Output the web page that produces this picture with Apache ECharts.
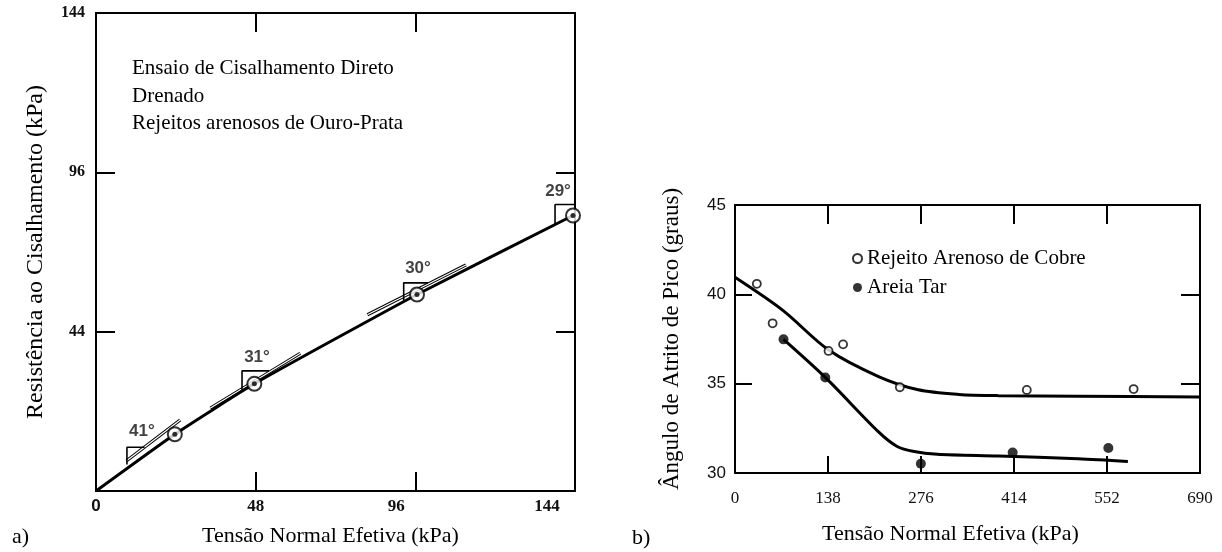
<!DOCTYPE html>
<html><head><meta charset="utf-8">
<script src="https://cdn.jsdelivr.net/npm/echarts@6/dist/echarts.min.js"></script>
<style>html,body{margin:0;padding:0;background:#fff}#c{width:1222px;height:552px}</style>
</head><body><div id="c"></div>
<script>
// ---------- Chart a) ----------
const aXTicks = [0, 48, 96, 144];
const aXLabels = ['0', '48', '96', '144'];
const aYTicks = [0, 48, 96, 144];
const aYLabels = ['', '44', '96', '144'];
const aPoints = [[23.7, 17.1], [47.6, 32.3], [96.5, 59.2], [143.4, 83.0]];
const aLine = [[0, 0], [23.7, 17.1], [47.6, 32.3], [96.5, 59.2], [143.4, 83.0], [144, 83.3]];
const aAngles = ['41°', '31°', '30°', '29°'];
const aAngleLabelPos = [[13.8, 18.0], [48.4, 40.3], [96.8, 67.0], [138.9, 90.2]];
const aAngleBoxes = [
  [[9.3, 8.0], [9.3, 13.2], [14.6, 13.2]],
  [[43.9, 30.3], [43.9, 36.2], [52.0, 36.2]],
  [[92.5, 57.3], [92.5, 62.7], [99.8, 62.7]],
  [[138.0, 80.4], [138.0, 86.3], [144, 86.3]]
];
const aTangents = [
  [[9.2, 9.1], [25.3, 21.4]],
  [[34.4, 25.0], [61.4, 41.5]],
  [[81.6, 53.1], [111.2, 68.1]]
];
const aNote = ['Ensaio de Cisalhamento Direto', 'Drenado', 'Rejeitos arenosos de Ouro-Prata'];

// ---------- Chart b) ----------
const bXTicks = [0, 138, 276, 414, 552, 690];
const bYTicks = [30, 35, 40, 45];
const seriesNames = ['Rejeito Arenoso de Cobre', 'Areia Tar'];
const cobrePts = [[32.4, 40.59], [55.8, 38.38], [138.8, 36.83], [160.4, 37.2], [244.6, 34.8], [433, 34.65], [591.5, 34.7]];
const cobreCurve = [[0, 40.95], [71, 39.1], [139, 36.88], [213, 35.4], [272, 34.66], [332, 34.4], [391, 34.33], [509, 34.3], [690, 34.26]];
const tarPts = [[72, 37.48], [134, 35.35], [275.8, 30.52], [412, 31.15], [554, 31.4]];
const tarCurve = [[72, 37.48], [134, 35.35], [213, 32.3], [240, 31.5], [266, 31.2], [300, 31.05], [391, 30.95], [509, 30.8], [583, 30.65]];

const SERIF = '"Liberation Serif","DejaVu Serif",serif';
const SANS = '"Liberation Sans","DejaVu Sans",sans-serif';
const BLACK = '#000';

function frameAxis(extra) {
  return Object.assign({
    type: 'value',
    splitLine: { show: false },
    axisLine: { show: true, onZero: false, lineStyle: { color: BLACK, width: 2 } },
    axisTick: { show: true, inside: true, length: 19, lineStyle: { color: BLACK, width: 2 } },
    axisLabel: { show: false }
  }, extra);
}

const lblBase = { fontFamily: SERIF, fontWeight: 'bold', fontSize: 17, color: '#111' };

const xAxes = [
  frameAxis({
    gridIndex: 0, min: 0, max: 144, interval: 48, position: 'bottom',
    axisLabel: {
      show: true, margin: 7,
      formatter: v => { const i = aXTicks.indexOf(v); return i < 0 ? '' : '{t' + i + '|' + aXLabels[i] + '}'; },
      rich: {
        t0: Object.assign({}, lblBase, { fontFamily: SANS }),
        t1: Object.assign({}, lblBase),
        t2: Object.assign({}, lblBase, { padding: [0, 38, 0, 0] }),
        t3: Object.assign({}, lblBase, { padding: [0, 56, 0, 0] })
      }
    },
    name: 'Tensão Normal Efetiva (kPa)', nameLocation: 'middle', nameGap: 34,
    nameTextStyle: { fontFamily: SERIF, fontSize: 22, color: BLACK, padding: [0, 10, 0, 0] }
  }),
  frameAxis({ gridIndex: 0, min: 0, max: 144, interval: 48, position: 'top' }),
  frameAxis({
    gridIndex: 1, min: 0, max: 690, interval: 138, position: 'bottom',
    axisTick: { show: true, inside: true, length: 17, lineStyle: { color: BLACK, width: 2 } },
    axisLabel: { show: true, margin: 17, fontFamily: SERIF, fontSize: 17, color: '#111',
      formatter: v => bXTicks.indexOf(v) < 0 ? '' : String(v) },
    name: 'Tensão Normal Efetiva (kPa)', nameLocation: 'middle', nameGap: 50,
    nameTextStyle: { fontFamily: SERIF, fontSize: 22, color: BLACK, padding: [0, 34, 0, 0] }
  }),
  frameAxis({ gridIndex: 1, min: 0, max: 690, interval: 138, position: 'top' })
];

const yAxes = [
  frameAxis({
    gridIndex: 0, min: 0, max: 144, interval: 48, position: 'left',
    axisLabel: { show: true, margin: 11, fontFamily: SERIF, fontWeight: 'bold', fontSize: 16, color: '#111',
      formatter: v => { const i = aYTicks.indexOf(v); return i < 0 ? '' : aYLabels[i]; } },
    name: 'Resistência ao Cisalhamento (kPa)', nameLocation: 'middle', nameGap: 48,
    nameTextStyle: { fontFamily: SERIF, fontSize: 24, color: BLACK }
  }),
  frameAxis({ gridIndex: 0, min: 0, max: 144, interval: 48, position: 'right' }),
  frameAxis({
    gridIndex: 1, min: 30, max: 45, interval: 5, position: 'left',
    axisTick: { show: true, inside: true, length: 17, lineStyle: { color: BLACK, width: 2 } },
    axisLabel: { show: true, margin: 9, fontFamily: SANS, fontSize: 17, color: '#111',
      formatter: v => bYTicks.indexOf(v) < 0 ? '' : String(v) },
    name: 'Ângulo de Atrito de Pico (graus)', nameLocation: 'middle', nameGap: 52,
    nameTextStyle: { fontFamily: SERIF, fontSize: 23, color: BLACK }
  }),
  frameAxis({ gridIndex: 1, min: 30, max: 45, interval: 5, position: 'right' })
];

const series = [];
// a) main line
series.push({ type: 'line', xAxisIndex: 0, yAxisIndex: 0, data: aLine, smooth: 0.15,
  symbol: 'none', lineStyle: { color: BLACK, width: 3 }, z: 3, silent: true });
// a) tangent double lines
aTangents.forEach(seg => {
  series.push({ type: 'line', xAxisIndex: 0, yAxisIndex: 0, data: seg, symbol: 'none',
    lineStyle: { color: BLACK, width: 3.2 }, z: 2, silent: true });
  series.push({ type: 'line', xAxisIndex: 0, yAxisIndex: 0, data: seg, symbol: 'none',
    lineStyle: { color: '#fff', width: 1.2 }, z: 2, silent: true });
});
// a) angle boxes
aAngleBoxes.forEach(b => {
  series.push({ type: 'line', xAxisIndex: 0, yAxisIndex: 0, data: b, symbol: 'none',
    lineStyle: { color: BLACK, width: 1.6 }, z: 2, silent: true });
});
// a) points: ring + dot
series.push({ type: 'scatter', xAxisIndex: 0, yAxisIndex: 0, data: aPoints, symbol: 'circle', symbolSize: 14,
  itemStyle: { color: '#fff', borderColor: BLACK, borderWidth: 2 }, z: 4, silent: true });
series.push({ type: 'scatter', xAxisIndex: 0, yAxisIndex: 0, data: aPoints, symbol: 'circle', symbolSize: 5,
  itemStyle: { color: BLACK }, z: 5, silent: true });
// a) angle labels
series.push({ type: 'scatter', xAxisIndex: 0, yAxisIndex: 0, data: aAngleLabelPos, symbolSize: 0,
  label: { show: true, position: 'inside', formatter: p => aAngles[p.dataIndex],
    fontFamily: SANS, fontSize: 17, fontWeight: 'bold', color: '#111' }, z: 6, silent: true });

// b) curves
series.push({ type: 'line', xAxisIndex: 2, yAxisIndex: 2, data: cobreCurve, smooth: 0.3,
  symbol: 'none', lineStyle: { color: BLACK, width: 3 }, z: 3, silent: true });
series.push({ type: 'line', xAxisIndex: 2, yAxisIndex: 2, data: tarCurve, smooth: 0.3,
  symbol: 'none', lineStyle: { color: BLACK, width: 3 }, z: 3, silent: true });
// b) points
series.push({ name: seriesNames[0], type: 'scatter', xAxisIndex: 2, yAxisIndex: 2, data: cobrePts, symbol: 'circle',
  symbolSize: 8, itemStyle: { color: '#fff', borderColor: BLACK, borderWidth: 1.8 }, z: 4, silent: true });
series.push({ name: seriesNames[1], type: 'scatter', xAxisIndex: 2, yAxisIndex: 2, data: tarPts, symbol: 'circle',
  symbolSize: 10, itemStyle: { color: BLACK }, z: 4, silent: true });

const option = {
  backgroundColor: '#fff',
  animation: false,
  grid: [
    { left: 96, top: 13, width: 479, height: 479 },
    { left: 735, top: 205, width: 465, height: 268 }
  ],
  xAxis: xAxes,
  yAxis: yAxes,
  legend: {
    data: seriesNames, orient: 'vertical', left: 847, top: 243, itemWidth: 9, itemHeight: 9, itemGap: 8,
    icon: 'circle', selectedMode: false,
    textStyle: { fontFamily: SERIF, fontSize: 21, color: BLACK }
  },
  graphic: [
    { type: 'text', left: 132, top: 55, style: { text: aNote.join('\n'), font: '21px ' + SERIF, lineHeight: 27.5, fill: BLACK } },
    { type: 'text', left: 12, top: 526, style: { text: 'a)', font: '22px ' + SERIF, fill: BLACK } },
    { type: 'text', left: 632, top: 527, style: { text: 'b)', font: '22px ' + SERIF, fill: BLACK } }
  ],
  series: series
};
const chart = echarts.init(document.getElementById('c'), null, { renderer: 'canvas' });
chart.setOption(option);
</script>
</body></html>
